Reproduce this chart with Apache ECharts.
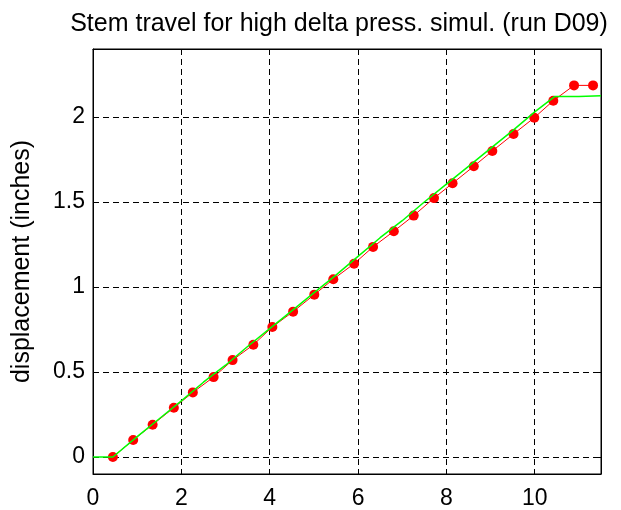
<!DOCTYPE html>
<html>
<head>
<meta charset="utf-8">
<script src="https://cdn.jsdelivr.net/npm/echarts@6/dist/echarts.min.js"></script>
<style>
  html, body { margin: 0; padding: 0; background: #fff; }
  #chart { width: 621px; height: 510px; }
</style>
</head>
<body>
<div id="chart"></div>
<script>
// simulated stem travel (red dots)
const simX = [0.45, 0.91, 1.35, 1.83, 2.26, 2.73, 3.16, 3.63, 4.06, 4.53, 5.01, 5.44, 5.91,
  6.34, 6.81, 7.26, 7.72, 8.14, 8.62, 9.04, 9.52, 9.99, 10.42, 10.89, 11.32]
const simY = [0, 0.10, 0.19, 0.29, 0.38, 0.47, 0.57, 0.66, 0.765, 0.855, 0.955, 1.046, 1.137,
  1.236, 1.328, 1.42, 1.523, 1.61, 1.71, 1.80, 1.90, 1.996, 2.096, 2.186, 2.186]
// measured stem travel (green line)
const measX = [0, 0.45, 1.0, 1.5, 2.0, 2.5, 3.0, 3.5, 4.0, 4.5, 5.0, 5.5, 6.0, 6.5, 7.0,
  7.5, 8.0, 8.5, 9.0, 9.5, 10.0, 10.45, 11.0, 11.5]
const measY = [0, 0, 0.12, 0.225, 0.33, 0.44, 0.54, 0.65, 0.755, 0.86, 0.965, 1.07, 1.18,
  1.29, 1.39, 1.50, 1.605, 1.71, 1.815, 1.92, 2.03, 2.12, 2.12, 2.125]
const xTicks = [0, 2, 4, 6, 8, 10]
const yTicks = [0, 0.5, 1, 1.5, 2]

const chart = echarts.init(document.getElementById('chart'))

const font = 'Liberation Sans, Arial, sans-serif'
const dash = { color: '#000', width: 1, type: [6, 4] }

const option = {
  animation: false,
  title: {
    text: 'Stem travel for high delta press. simul. (run D09)',
    left: 334, top: 7, textAlign: 'center',
    textStyle: { fontFamily: font, fontSize: 25, fontWeight: 'normal', color: '#000' }
  },
  grid: { left: 93, right: 20, top: 49, bottom: 36, show: true, borderColor: '#000', borderWidth: 1 },
  xAxis: [{
    type: 'value', min: 0, max: 11.5, interval: 2,
    axisLine: { show: true, onZero: false, lineStyle: { color: '#000' } },
    axisTick: { show: true, inside: true, length: 5, customValues: xTicks, lineStyle: { color: '#000' } },
    axisLabel: { customValues: xTicks, margin: 13, fontFamily: font, fontSize: 23, color: '#000' },
    splitLine: { show: true, lineStyle: dash }
  }, {
    type: 'value', position: 'top', min: 0, max: 11.5, interval: 2,
    axisLine: { show: true, onZero: false, lineStyle: { color: '#000' } },
    axisTick: { show: true, inside: true, length: 5, customValues: xTicks, lineStyle: { color: '#000' } },
    axisLabel: { show: false },
    splitLine: { show: false }
  }],
  yAxis: [{
    type: 'value', min: -0.1, max: 2.4,
    name: 'displacement (inches)', nameLocation: 'middle', nameGap: 58,
    nameTextStyle: { fontFamily: font, fontSize: 25, color: '#000' },
    axisLine: { show: true, onZero: false, lineStyle: { color: '#000' } },
    axisTick: { show: true, inside: true, length: 5, customValues: yTicks, lineStyle: { color: '#000' } },
    axisLabel: { customValues: yTicks, margin: 8, fontFamily: font, fontSize: 23, color: '#000' },
    splitLine: { show: true, lineStyle: dash }
  }, {
    type: 'value', position: 'right', min: -0.1, max: 2.4,
    axisLine: { show: true, onZero: false, lineStyle: { color: '#000' } },
    axisTick: { show: true, inside: true, length: 5, customValues: yTicks, lineStyle: { color: '#000' } },
    axisLabel: { show: false },
    splitLine: { show: false }
  }],
  series: [{
    name: 'measured',
    type: 'line',
    data: measX.map((x, i) => [x, measY[i]]),
    showSymbol: false,
    lineStyle: { color: '#00ff00', width: 1.5 },
    z: 3
  }, {
    name: 'simulated',
    type: 'line',
    data: simX.map((x, i) => [x, simY[i]]),
    symbol: 'circle',
    symbolSize: 10,
    itemStyle: { color: '#ff0000' },
    lineStyle: { color: '#ff0000', width: 1 },
    z: 2
  }]
}
chart.setOption(option)
</script>
</body>
</html>
